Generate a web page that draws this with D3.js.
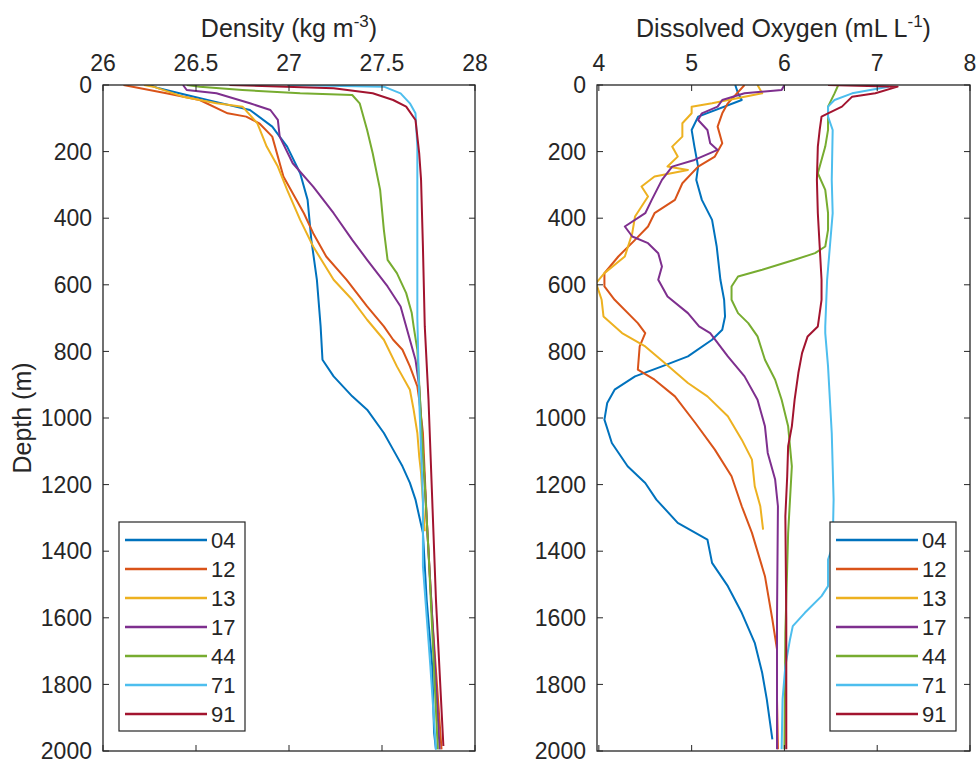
<!DOCTYPE html>
<html>
<head>
<meta charset="utf-8">
<script src="https://cdn.jsdelivr.net/npm/d3@7"></script>
<style>
  body { margin: 0; background: #fff; }
  text { font-family: "Liberation Sans", Arial, Helvetica, sans-serif; fill: #262626; }
</style>
</head>
<body>
<svg id="chart" width="976" height="764"></svg>
<script>
// station ids and matlab default colours
var stations = ["04", "12", "13", "17", "44", "71", "91"];
var colors = ["#0072BD", "#D95319", "#EDB120", "#7E2F8E", "#77AC30", "#4DBEEE", "#A2142F"];

var depthTicks = [0, 200, 400, 600, 800, 1000, 1200, 1400, 1600, 1800, 2000];
var densTicks = [26, 26.5, 27, 27.5, 28];
var oxyTicks = [4, 5, 6, 7, 8];

// density profiles [depth, kg m-3]
var dens04 = [[0,26.25],[10,26.3],[30,26.45],[50,26.6],[75,26.79],[125,26.91],[185,26.99],[265,27.06],[345,27.1],[465,27.12],[585,27.15],[725,27.17],[825,27.18],[875,27.24],[935,27.34],[975,27.42],[1045,27.51],[1095,27.56],[1145,27.61],[1195,27.65],[1245,27.68],[1295,27.7],[1345,27.72],[1545,27.74],[1745,27.77],[1945,27.78],[1995,27.79]];
var dens12 = [[0,26.11],[25,26.34],[45,26.52],[85,26.67],[95,26.77],[115,26.84],[155,26.91],[275,26.97],[325,27.02],[385,27.08],[445,27.13],[515,27.2],[585,27.31],[665,27.42],[725,27.51],[765,27.56],[795,27.61],[845,27.65],[905,27.69],[945,27.7],[1045,27.72],[1300,27.74],[1600,27.77],[1995,27.82]];
var dens13 = [[0,26.22],[5,26.27],[35,26.43],[55,26.61],[65,26.75],[115,26.83],[185,26.88],[245,26.94],[315,26.99],[405,27.06],[485,27.13],[585,27.24],[645,27.34],[705,27.42],[765,27.51],[845,27.58],[915,27.65],[975,27.67],[1045,27.69],[1115,27.7],[1165,27.71],[1340,27.73]];
var dens17 = [[0,26.43],[15,26.45],[25,26.61],[55,26.79],[75,26.9],[105,26.94],[155,26.95],[235,27.02],[305,27.13],[385,27.24],[465,27.34],[525,27.42],[605,27.53],[665,27.6],[725,27.63],[825,27.68],[905,27.7],[1200,27.73],[1500,27.76],[1995,27.81]];
var dens44 = [[0,26.45],[5,26.52],[15,26.75],[25,27.06],[30,27.34],[55,27.38],[135,27.42],[205,27.45],[315,27.49],[435,27.51],[525,27.53],[565,27.58],[625,27.63],[685,27.66],[725,27.67],[795,27.69],[1000,27.71],[1400,27.75],[1995,27.8]];
var dens71 = [[0,26.99],[5,27.51],[25,27.6],[55,27.65],[85,27.68],[185,27.69],[700,27.69],[945,27.7],[1245,27.72],[1445,27.72],[1745,27.76],[1995,27.79]];
var dens91 = [[0,26.68],[10,27.24],[25,27.45],[45,27.56],[65,27.63],[105,27.68],[205,27.7],[285,27.71],[485,27.72],[725,27.73],[945,27.75],[1245,27.77],[1545,27.79],[1985,27.83]];

// dissolved oxygen profiles [depth, mL L-1]
var oxy04 = [[0,5.47],[25,5.5],[45,5.54],[95,5.07],[135,5.0],[185,5.03],[245,5.07],[285,5.05],[345,5.11],[405,5.22],[485,5.27],[585,5.31],[645,5.35],[695,5.36],[735,5.33],[765,5.22],[815,4.96],[845,4.68],[875,4.39],[915,4.17],[955,4.09],[1005,4.06],[1075,4.14],[1145,4.31],[1195,4.5],[1245,4.62],[1315,4.85],[1365,5.17],[1435,5.22],[1505,5.39],[1585,5.54],[1675,5.68],[1765,5.76],[1845,5.81],[1965,5.87]];
var oxy12 = [[0,5.57],[55,5.39],[85,5.33],[125,5.28],[175,5.33],[215,5.25],[245,5.07],[295,4.9],[345,4.82],[385,4.6],[425,4.53],[465,4.39],[515,4.21],[565,4.06],[605,4.06],[645,4.17],[715,4.42],[745,4.5],[785,4.44],[855,4.42],[885,4.6],[935,4.82],[1015,5.04],[1095,5.25],[1175,5.43],[1265,5.54],[1345,5.65],[1475,5.79],[1605,5.87],[1695,5.92],[1845,5.92],[1995,5.93]];
var oxy13 = [[0,5.71],[25,5.76],[55,5.22],[65,5.0],[85,5.0],[115,4.9],[155,4.9],[185,4.79],[215,4.85],[245,4.74],[255,4.96],[275,4.6],[305,4.46],[335,4.53],[395,4.39],[445,4.36],[515,4.28],[565,4.06],[595,3.97],[645,4.03],[695,4.05],[745,4.25],[785,4.5],[835,4.71],[895,4.96],[935,5.17],[995,5.39],[1065,5.54],[1125,5.65],[1205,5.68],[1265,5.74],[1335,5.77]];
var oxy17 = [[0,6.0],[15,5.97],[25,5.57],[45,5.33],[65,5.28],[85,5.11],[105,5.07],[135,5.17],[175,5.2],[195,5.28],[225,5.03],[245,4.79],[285,4.68],[345,4.57],[385,4.5],[425,4.28],[455,4.36],[475,4.53],[505,4.64],[545,4.68],[585,4.64],[635,4.74],[685,4.96],[725,5.08],[745,5.2],[815,5.39],[875,5.57],[945,5.71],[1025,5.79],[1105,5.82],[1185,5.9],[1265,5.93],[1600,5.92],[1995,5.92]];
var oxy44 = [[0,6.58],[25,6.54],[65,6.47],[135,6.47],[185,6.44],[265,6.36],[315,6.44],[385,6.47],[435,6.47],[485,6.44],[505,6.33],[525,6.11],[555,5.76],[575,5.5],[605,5.43],[645,5.43],[685,5.5],[715,5.61],[755,5.71],[825,5.79],[885,5.9],[945,5.97],[1025,6.04],[1145,6.08],[1245,6.06],[1345,6.04],[1445,6.03],[1645,6.01],[1995,6.0]];
var oxy71 = [[0,6.9],[5,7.12],[25,6.73],[45,6.54],[65,6.47],[95,6.47],[135,6.52],[285,6.51],[385,6.52],[485,6.49],[585,6.46],[725,6.44],[745,6.44],[845,6.47],[945,6.49],[1045,6.51],[1145,6.52],[1245,6.53],[1385,6.52],[1425,6.47],[1505,6.47],[1535,6.4],[1585,6.22],[1625,6.09],[1665,6.06],[1745,6.01],[1845,5.98],[1995,5.97]];
var oxy91 = [[0,6.47],[5,7.22],[25,6.98],[35,6.73],[65,6.62],[85,6.47],[95,6.4],[135,6.38],[185,6.36],[285,6.35],[385,6.36],[485,6.38],[585,6.4],[645,6.4],[725,6.36],[755,6.25],[805,6.19],[865,6.15],[945,6.11],[1025,6.08],[1085,6.04],[1175,6.03],[1295,6.01],[1600,6.02],[1995,6.02]];

var densSeries = [dens04, dens12, dens13, dens17, dens44, dens71, dens91];
var oxySeries = [oxy04, oxy12, oxy13, oxy17, oxy44, oxy71, oxy91];

var svg = d3.select("#chart");
var plotTop = 85, plotBottom = 751;
var axisColor = "#262626";
var tickLen = 6;

var y = d3.scaleLinear().domain([0, 2000]).range([plotTop, plotBottom]);

function panel(xScale, xTicks, series, titleParts, legendX) {
    var g = svg.append("g");
    var x0 = xScale.range()[0], x1 = xScale.range()[1];

    // clip so profiles stay inside the box
    var clipId = "clip" + Math.round(x0);
    svg.append("clipPath").attr("id", clipId)
        .append("rect").attr("x", x0).attr("y", plotTop).attr("width", x1 - x0).attr("height", plotBottom - plotTop);

    var line = d3.line().x(d => xScale(d[1])).y(d => y(d[0]));

    g.append("g").attr("clip-path", "url(#" + clipId + ")")
        .selectAll("path")
        .data(series)
        .enter()
        .append("path")
        .attr("d", line)
        .attr("fill", "none")
        .attr("stroke", (d, i) => colors[i])
        .attr("stroke-width", 2)
        .attr("stroke-linejoin", "round");

    // ticks on all four sides, pointing inward
    xTicks.forEach(function (t) {
        var px = xScale(t);
        g.append("line").attr("x1", px).attr("x2", px).attr("y1", plotTop).attr("y2", plotTop + tickLen).attr("stroke", axisColor);
        g.append("line").attr("x1", px).attr("x2", px).attr("y1", plotBottom).attr("y2", plotBottom - tickLen).attr("stroke", axisColor);
        g.append("text").attr("x", px).attr("y", 71).attr("text-anchor", "middle")
            .style("font-size", "23px").text(t);
    });
    depthTicks.forEach(function (t) {
        var py = y(t);
        g.append("line").attr("x1", x0).attr("x2", x0 + tickLen).attr("y1", py).attr("y2", py).attr("stroke", axisColor);
        g.append("line").attr("x1", x1).attr("x2", x1 - tickLen).attr("y1", py).attr("y2", py).attr("stroke", axisColor);
        g.append("text").attr("x", x0 - 11).attr("y", py).attr("dy", "0.36em").attr("text-anchor", "end")
            .style("font-size", "23px").text(t);
    });

    g.append("rect").attr("x", x0).attr("y", plotTop).attr("width", x1 - x0).attr("height", plotBottom - plotTop)
        .attr("fill", "none").attr("stroke", axisColor).attr("stroke-width", 1.3);

    // title with superscript
    var title = g.append("text").attr("x", (x0 + x1) / 2).attr("y", 37)
        .attr("text-anchor", "middle").style("font-size", "25px");
    title.append("tspan").text(titleParts[0]);
    title.append("tspan").attr("dy", -10).style("font-size", "17px").text(titleParts[1]);
    title.append("tspan").attr("dy", 10).text(titleParts[2]);

    // legend
    var lg = g.append("g").attr("transform", `translate(${legendX}, 522)`);
    lg.append("rect").attr("width", 126).attr("height", 209)
        .attr("fill", "#fff").attr("stroke", axisColor).attr("stroke-width", 1.2);
    stations.forEach(function (s, i) {
        var ly = 18 + i * 29;
        lg.append("line").attr("x1", 6).attr("x2", 88).attr("y1", ly).attr("y2", ly)
            .attr("stroke", colors[i]).attr("stroke-width", 2.6);
        lg.append("text").attr("x", 92).attr("y", ly).attr("dy", "0.36em")
            .style("font-size", "22px").text(s);
    });
}

var xDens = d3.scaleLinear().domain([26, 28]).range([103, 475]);
var xOxy = d3.scaleLinear().domain([3.98, 8]).range([597, 970]);

panel(xDens, densTicks, densSeries, ["Density (kg m", "-3", ")"], 119);
panel(xOxy, oxyTicks, oxySeries, ["Dissolved Oxygen (mL L", "-1", ")"], 830);

svg.append("text")
    .attr("transform", "translate(31, 418) rotate(-90)")
    .attr("text-anchor", "middle")
    .style("font-size", "25px")
    .text("Depth (m)");
</script>
</body>
</html>
